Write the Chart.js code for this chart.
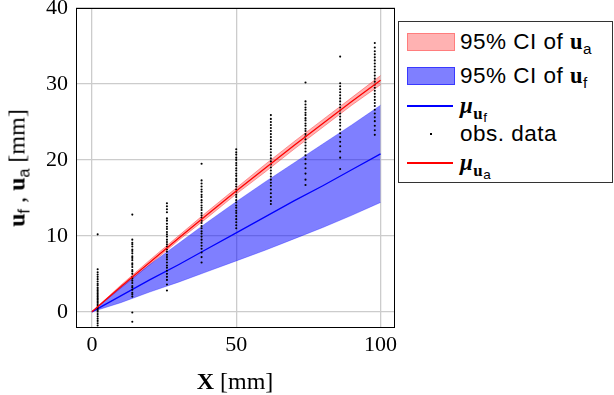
<!DOCTYPE html>
<html>
<head>
<meta charset="utf-8">
<script src="https://cdn.jsdelivr.net/npm/chart.js@4.4.0/dist/chart.umd.min.js"></script>
<style>
  body { margin: 0; background: #fff; }
  #wrap { position: relative; width: 614px; height: 395px; overflow: hidden; }
  canvas { position: absolute; left: 0; top: 0; }
  .serif { font-family: 'Liberation Serif', 'DejaVu Serif', serif; }
  .title { position: absolute; font-size: 24px; white-space: nowrap; color: #000; transform: translate(-50%, -50%); }
  .title sub, #legend sub { font-family: 'Liberation Sans', Arial, sans-serif; font-size: 0.68em; vertical-align: -0.3em; line-height: 0; }
  #legend { position: absolute; left: 398px; top: 21px; width: 213px; height: 160px; border: 1.5px solid #333; background: #fff; font-family: 'Liberation Sans', Arial, sans-serif; font-size: 22.5px; letter-spacing: 0.5px; color: #000; }
  .row { position: absolute; left: 0; height: 30px; width: 100%; }
  .sw { position: absolute; left: 8px; width: 46px; }
  .line { position: absolute; left: 8px; width: 46px; top: 14px; height: 2px; }
  .txt { position: absolute; left: 61px; top: 50%; transform: translateY(-50%); white-space: nowrap; }
  .mu { font-family: 'Liberation Serif', serif; font-weight: bold; font-style: italic; font-size: 23px; }
  .bu { font-family: 'Liberation Serif', serif; font-weight: bold; }
  #legend .musub { font-size: 0.75em; vertical-align: -0.35em; }
  #legend .musub sub { font-size: 0.8em; vertical-align: -0.25em; }
</style>
</head>
<body>
<div id="wrap">
  <canvas id="chart" width="614" height="395"></canvas>
  <div class="title serif" style="left:17px; top:168px; transform: translate(-50%, -50%) rotate(-90deg);">
    <b>u</b><sub>f</sub> , <b>u</b><sub>a</sub> [mm]
  </div>
  <div class="title serif" style="left:235px; top:381px;"><b>X</b> [mm]</div>
  <div id="legend">
    <div class="row" style="top:5px;">
      <div class="sw" style="top:6px; height:16px; background:rgba(255,0,0,0.3); border:1px solid rgba(255,60,60,0.45);"></div>
      <div class="txt">95% CI of <span class="bu">u</span><sub>a</sub></div>
    </div>
    <div class="row" style="top:39px;">
      <div class="sw" style="top:6px; height:16px; background:rgba(0,0,255,0.5); border:1px solid rgba(0,0,255,0.55);"></div>
      <div class="txt">95% CI of <span class="bu">u</span><sub>f</sub></div>
    </div>
    <div class="row" style="top:69px;">
      <div class="line" style="background-color:#0000ff;"></div>
      <div class="txt"><span class="mu">μ</span><sub class="musub"><span class="bu">u</span><sub>f</sub></sub></div>
    </div>
    <div class="row" style="top:97px;">
      <div class="sw" style="top:14px; left:31px; width:2px; height:2px; background:#000;"></div>
      <div class="txt">obs. data</div>
    </div>
    <div class="row" style="top:126px;">
      <div class="line" style="background-color:#ff0000;"></div>
      <div class="txt"><span class="mu">μ</span><sub class="musub"><span class="bu">u</span><sub>a</sub></sub></div>
    </div>
  </div>
</div>
<script>
// axis ticks
const xTicks = [0, 50, 100];
const yTicks = [0, 10, 20, 30, 40];

// model curves, sampled every 10 mm
const bandX = [0, 10, 20, 30, 40, 50, 60, 70, 80, 90, 100];
const muA = [0, 3.3, 6.5, 9.7, 12.8, 15.9, 18.9, 21.9, 24.8, 27.7, 30.5];
const ciAUpper = [0, 3.5, 6.8, 10.0, 13.2, 16.3, 19.4, 22.4, 25.3, 28.2, 31.1];
const ciALower = [0, 3.1, 6.2, 9.4, 12.4, 15.5, 18.4, 21.4, 24.3, 27.2, 29.9];
const muF = [0, 2.1, 4.2, 6.2, 8.3, 10.4, 12.5, 14.6, 16.6, 18.7, 20.8];
const ciFUpper = [0, 3.2, 6.2, 9.0, 11.8, 14.5, 17.1, 19.6, 22.1, 24.6, 27.2];
const ciFLower = [0, 1.2, 2.6, 3.9, 5.3, 6.7, 8.1, 9.6, 11.1, 12.7, 14.4];

// observed data, one column per X position
const obsX = [2, 14, 26, 38, 50, 62, 74, 86, 98];
const obs02 = [10.2, 5.6, 5.2, 4.9, 4.6, 4.3, 4.0, 3.7, 3.5, 3.2, 3.0, 2.8, 2.6, 2.4, 2.2, 2.0, 1.8, 1.6, 1.4, 1.2, 1.0, 0.8, 0.6, 0.4, 0.2, 0.0, -0.3, -0.6, -0.9, -1.2, -1.5, -1.8];
const obs14 = [12.8, 9.5, 9.1, 8.9, 8.6, 8.2, 8.0, 7.7, 7.3, 7.1, 6.8, 6.4, 6.2, 5.9, 5.5, 5.3, 5.0, 4.6, 4.4, 4.1, 3.8, 3.4, 3.2, 2.9, 2.5, 2.3, 2.0, -0.1, -1.3];
const obs26 = [14.3, 13.9, 13.5, 13.1, 12.3, 12.0, 11.6, 11.2, 10.9, 10.5, 10.2, 9.9, 9.5, 9.2, 8.9, 8.6, 8.2, 7.9, 7.5, 7.2, 6.9, 6.5, 6.1, 5.8, 5.4, 5.0, 4.6, 4.2, 3.6, 2.8];
const obs38 = [19.5, 17.3, 16.9, 16.5, 16.1, 15.8, 15.4, 15.1, 14.7, 14.4, 14.0, 13.7, 13.4, 13.0, 12.7, 12.4, 12.0, 11.7, 11.3, 11.0, 10.6, 10.3, 9.9, 9.5, 9.1, 8.7, 8.3, 7.8, 7.2, 6.5];
const obs50 = [21.4, 21.0, 20.7, 20.3, 20.0, 19.6, 19.3, 18.9, 18.6, 18.2, 17.9, 17.5, 17.2, 16.8, 16.5, 16.1, 15.8, 15.4, 15.1, 14.7, 14.4, 14.0, 13.7, 13.3, 13.0, 12.6, 12.2, 11.8, 11.4, 11.0];
const obs62 = [25.9, 25.4, 25.0, 24.6, 24.2, 23.8, 23.4, 23.0, 22.6, 22.2, 21.8, 21.4, 21.0, 20.6, 20.2, 19.8, 19.4, 19.0, 18.6, 18.2, 17.8, 17.4, 17.0, 16.6, 16.1, 15.6, 15.1, 14.6, 14.2];
const obs74 = [30.2, 27.7, 27.3, 26.9, 26.6, 26.2, 25.9, 25.5, 25.2, 24.8, 24.5, 24.1, 23.8, 23.4, 23.1, 22.7, 22.3, 21.9, 21.5, 21.1, 20.6, 20.1, 19.5, 18.9, 18.2, 17.4, 16.7];
const obs86 = [33.6, 30.1, 29.7, 29.3, 28.9, 28.5, 28.1, 27.7, 27.3, 26.9, 26.5, 26.1, 25.7, 25.3, 24.9, 24.5, 24.0, 23.5, 23.0, 22.4, 21.8, 21.1, 20.3, 18.8];
const obs98 = [35.4, 34.8, 34.3, 33.9, 33.5, 33.1, 32.7, 32.3, 31.9, 31.5, 31.1, 30.7, 30.3, 29.9, 29.5, 29.1, 28.7, 28.3, 27.9, 27.5, 27.1, 26.6, 26.1, 25.6, 25.1, 24.5, 23.9, 23.3];
const obsColumns = [obs02, obs14, obs26, obs38, obs50, obs62, obs74, obs86, obs98];

function pts(xs, ys) {
    return xs.map((x, i) => ({ x: x, y: ys[i] }));
}

let obsPoints = [];
obsColumns.forEach((col, i) => {
    col.forEach(v => obsPoints.push({ x: obsX[i], y: v }));
});

const frame = {
    id: 'frame',
    afterDraw(chart) {
        const a = chart.chartArea;
        const ctx = chart.ctx;
        ctx.save();
        ctx.strokeStyle = '#000';
        ctx.lineWidth = 1;
        ctx.strokeRect(a.left + 0.5, a.top + 0.5, a.right - a.left - 1, a.bottom - a.top);
        ctx.restore();
    }
};

const tickFont = { family: "'Liberation Serif', 'DejaVu Serif', serif", size: 22 };

// index 0 is drawn on top
const datasets = [
    { data: pts(bandX, muA), borderColor: '#ff0000', borderWidth: 1.3, pointRadius: 0, fill: false },
    { data: obsPoints, showLine: false, pointRadius: 1.05, pointBackgroundColor: '#000', pointBorderWidth: 0, fill: false },
    { data: pts(bandX, muF), borderColor: '#0000ff', borderWidth: 1.3, pointRadius: 0, fill: false },
    { data: pts(bandX, ciFUpper), borderColor: 'rgba(0,0,255,0.5)', borderWidth: 0.6, pointRadius: 0, fill: 4, backgroundColor: 'rgba(0,0,255,0.5)' },
    { data: pts(bandX, ciFLower), borderColor: 'rgba(0,0,255,0.5)', borderWidth: 0.6, pointRadius: 0, fill: false },
    { data: pts(bandX, ciAUpper), borderColor: 'rgba(255,0,0,0.35)', borderWidth: 1, pointRadius: 0, fill: 6, backgroundColor: 'rgba(255,0,0,0.3)' },
    { data: pts(bandX, ciALower), borderColor: 'rgba(255,0,0,0.35)', borderWidth: 1, pointRadius: 0, fill: false }
];

new Chart(document.getElementById('chart').getContext('2d'), {
    type: 'line',
    data: { datasets },
    plugins: [frame],
    options: {
        responsive: false,
        animation: false,
        layout: { padding: { left: 0, right: 219, top: 8, bottom: 0 } },
        scales: {
            x: {
                type: 'linear',
                min: -5.5,
                max: 105,
                afterBuildTicks: s => { s.ticks = xTicks.map(v => ({ value: v })); },
                afterFit: s => { s.height = 68; },
                grid: { color: '#cccccc', lineWidth: 1.3, tickLength: 0 },
                border: { display: false },
                ticks: { font: tickFont, color: '#000', padding: 5 }
            },
            y: {
                min: -2,
                max: 40,
                afterBuildTicks: s => { s.ticks = yTicks.map(v => ({ value: v })); },
                afterFit: s => { s.width = 76; s.paddingTop = 0; s.paddingBottom = 0; },
                grid: { color: '#cccccc', lineWidth: 1.3, tickLength: 0 },
                border: { display: false },
                ticks: { font: tickFont, color: '#000', padding: 8 }
            }
        },
        plugins: {
            legend: { display: false },
            tooltip: { enabled: false }
        }
    }
});
</script>
</body>
</html>
